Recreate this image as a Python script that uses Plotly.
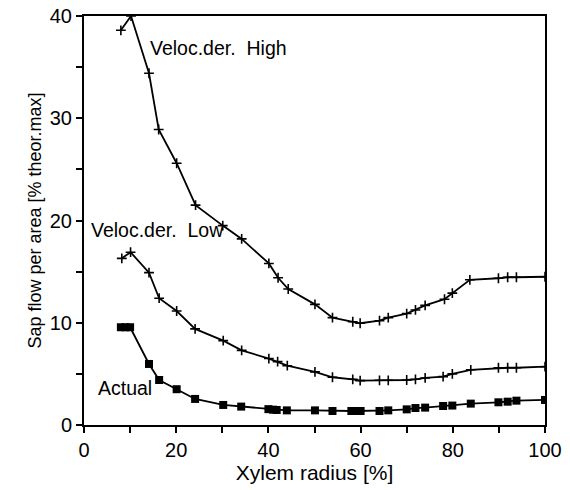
import plotly.graph_objects as go

high_x = [8.0, 10.2, 14.1, 16.2, 20.1, 24.2, 30.1, 34.2, 40.1, 42.1, 44.3, 50.1, 53.9, 58.3, 59.9, 64.1, 66.0, 70.0, 71.9, 74.0, 78.2, 79.9, 83.7, 89.9, 91.9, 93.8, 100]
high_y = [38.6, 40.0, 34.4, 28.9, 25.6, 21.5, 19.5, 18.2, 15.8, 14.4, 13.3, 11.8, 10.5, 10.1, 9.95, 10.2, 10.5, 10.9, 11.25, 11.7, 12.3, 12.9, 14.2, 14.35, 14.45, 14.45, 14.5]

low_x = [8.2, 10.1, 14.1, 16.3, 20.1, 24.1, 30.2, 34.2, 40.1, 42.0, 44.1, 50.1, 53.9, 58.3, 59.9, 64.1, 66.0, 70.0, 71.9, 74.0, 77.9, 79.9, 83.9, 89.9, 91.9, 93.8, 100]
low_y = [16.3, 16.9, 14.9, 12.4, 11.15, 9.4, 8.25, 7.3, 6.5, 6.2, 5.8, 5.2, 4.67, 4.47, 4.34, 4.37, 4.37, 4.4, 4.47, 4.6, 4.73, 5.0, 5.4, 5.6, 5.6, 5.6, 5.7]

act_x = [8.0, 9.0, 10.0, 14.1, 16.3, 20.1, 24.1, 30.2, 34.1, 40.0, 41.0, 41.8, 44.0, 50.1, 53.9, 58.0, 59.0, 60.0, 64.1, 66.0, 70.0, 71.9, 74.0, 77.9, 79.9, 83.9, 89.9, 91.9, 93.8, 100]
act_y = [9.56, 9.56, 9.56, 5.97, 4.4, 3.5, 2.55, 1.96, 1.8, 1.55, 1.5, 1.47, 1.43, 1.43, 1.37, 1.37, 1.37, 1.37, 1.37, 1.43, 1.53, 1.66, 1.7, 1.86, 1.9, 2.09, 2.22, 2.28, 2.38, 2.45]

labels = ["Veloc.der.  High", "Veloc.der.  Low", "Actual"]
label_x = [13.9, 1.0, 2.6]
label_y = [36.9, 19.1, 3.6]

FONT = "Liberation Sans, Arial, sans-serif"

fig = go.Figure()
cross = dict(symbol="cross-thin", size=7, line=dict(width=1.6, color="black"), color="black")
fig.add_trace(go.Scatter(x=high_x, y=high_y, mode="lines+markers",
                         line=dict(color="black", width=1.8), marker=cross))
fig.add_trace(go.Scatter(x=low_x, y=low_y, mode="lines+markers",
                         line=dict(color="black", width=1.8), marker=cross))
fig.add_trace(go.Scatter(x=act_x, y=act_y, mode="lines+markers",
                         line=dict(color="black", width=1.8),
                         marker=dict(symbol="square", size=8, color="black")))

for t, x, y in zip(labels, label_x, label_y):
    fig.add_annotation(x=x, y=y, text=t, showarrow=False, xanchor="left",
                       yanchor="middle", font=dict(family=FONT, size=19.5, color="black"))

axis_common = dict(showline=True, linecolor="black", linewidth=2, mirror=True,
                   ticks="outside", ticklen=6, tickwidth=1.5, tickcolor="black",
                   showgrid=False, zeroline=False, automargin=False,
                   tickfont=dict(family=FONT, size=20, color="black"))

fig.update_xaxes(range=[0, 100], dtick=20, tick0=0,
                 minor=dict(dtick=10, ticks="outside", ticklen=6, tickcolor="black", tickwidth=1.5),
                 title=dict(text="Xylem radius [%]", font=dict(family=FONT, size=21, color="black"), standoff=3),
                 **axis_common)
fig.update_yaxes(range=[0, 40], dtick=10, tick0=0,
                 minor=dict(dtick=5, ticks="outside", ticklen=6, tickcolor="black", tickwidth=1.5),
                 title=dict(text="Sap flow per area [% theor.max]", font=dict(family=FONT, size=18, color="black"), standoff=3),
                 **axis_common)

fig.update_layout(width=570, height=490, showlegend=False,
                  margin=dict(l=84, r=25, t=16, b=65),
                  plot_bgcolor="white", paper_bgcolor="white")

fig.write_html("out.html")
